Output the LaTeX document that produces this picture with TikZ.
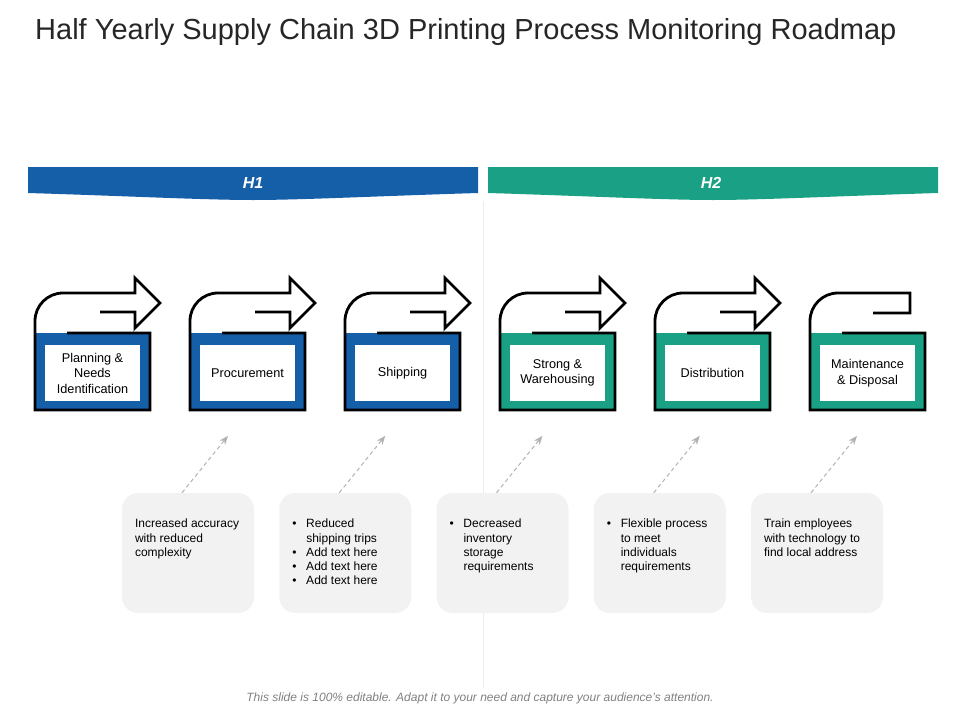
\documentclass[tikz,border=0pt]{standalone}
\usepackage{fontspec}
\setmainfont{Liberation Sans}
\usetikzlibrary{arrows.meta}
\definecolor{hblue}{RGB}{21,94,168}
\definecolor{hteal}{RGB}{25,160,133}
\definecolor{boxgray}{RGB}{242,242,242}
\newcommand{\bul}{\makebox[14pt][l]{\textbullet}}
\newcommand{\bulind}{\hspace*{14pt}}

\begin{document}
\begin{tikzpicture}[x=1pt,y=-1pt,
  stage/.style={fill=white, minimum width=95pt, minimum height=56pt, align=center, inner sep=2pt, font=\fontsize{12.7}{15.5}\selectfont},
  outline/.style={line width=2.8pt, line join=miter},
  callout/.style={fill=boxgray, rounded corners=16pt, minimum width=132pt, minimum height=120pt},
  note/.style={anchor=north west, align=left, inner sep=0pt, font=\fontsize{12}{14.3}\selectfont},
  link/.style={draw=black!30, line width=1pt, dash pattern=on 4pt off 3pt, -{Stealth[length=9pt,width=7pt]}},
  banner/.style={text=white, font=\bfseries\itshape\fontsize{16}{18}\selectfont}]
\useasboundingbox (0,0) rectangle (960,720);

\node[anchor=west, inner sep=0pt, text=black!85, font=\fontsize{29}{34}\selectfont] (title) at (35,32) {Half Yearly Supply Chain 3D Printing Process Monitoring Roadmap};

% half year banners
\fill[hblue] (28,167) -- (478,167) -- (478,193) .. controls (380,196) and (300,200) .. (253,200) .. controls (206,200) and (126,196) .. (28,193) -- cycle;
\fill[hteal] (488,167) -- (938,167) -- (938,193) .. controls (840,196) and (760,200) .. (713,200) .. controls (666,200) and (586,196) .. (488,193) -- cycle;
\node[banner] (h1) at (253,183) {H1};
\node[banner] (h2) at (711,183) {H2};
\draw[black!7, line width=1pt] (483,201) -- (483,688);

% stages
\foreach \i/\col/\txt in {0/hblue/{Planning \&\\Needs\\Identification}, 1/hblue/Procurement, 2/hblue/Shipping, 3/hteal/{Strong \&\\Warehousing}, 4/hteal/Distribution, 5/hteal/{Maintenance\\\& Disposal}} {
  \pgfmathsetmacro{\x}{35+155*\i}
  \fill[\col] (\x,333) rectangle ++(115,77);
  \node[stage] (s\i) at (\x+57.5,373) {\txt};
  \ifnum\i<5
    \draw[outline] (\x+32,333) -- (\x+115,333) -- (\x+115,410) -- (\x,410) -- (\x,321) arc[start angle=180,end angle=270,radius=28] -- (\x+100,293) -- (\x+100,278) -- (\x+125,303) -- (\x+100,328) -- (\x+100,312) -- (\x+65,312);
  \else
    \draw[outline] (\x+32,333) -- (\x+115,333) -- (\x+115,410) -- (\x,410) -- (\x,321) arc[start angle=180,end angle=270,radius=28] -- (\x+100,293) -- (\x+100,313) -- (\x+63,313);
  \fi
}

% notes under the stages
\foreach \j/\txt in {1/{Increased accuracy\\with reduced\\complexity},
  2/{\bul Reduced\\\bulind shipping trips\\\bul Add text here\\\bul Add text here\\\bul Add text here},
  3/{\bul Decreased\\\bulind inventory\\\bulind storage\\\bulind requirements},
  4/{\bul Flexible process\\\bulind to meet\\\bulind individuals\\\bulind requirements},
  5/{Train employees\\with technology to\\find local address}} {
  \pgfmathsetmacro{\cx}{188+157.25*(\j-1)}
  \node[callout] (c\j) at (\cx,553) {};
  \node[note] (n\j) at ([xshift=13pt,yshift=-26pt]c\j.north west) {\txt};
  \coordinate (t\j) at ([xshift=40pt,yshift=57pt]c\j.north);
  \draw[link] ([xshift=-6pt]c\j.north) -- (t\j);
}

\node[text=black!50, font=\itshape\fontsize{12}{14}\selectfont] (foot) at (480,698) {This slide is 100\% editable. Adapt it to your need and capture your audience's attention.};
\end{tikzpicture}
\end{document}
